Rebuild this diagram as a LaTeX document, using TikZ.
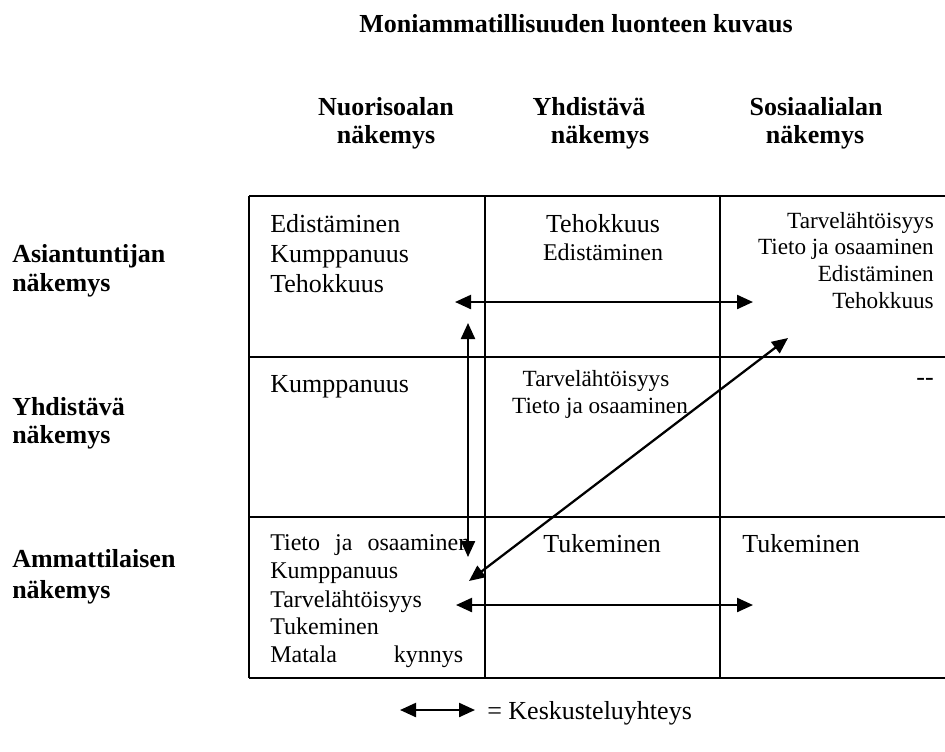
\documentclass[tikz,border=0pt]{standalone}
\usepackage{fontspec}
\setmainfont{Liberation Serif}
\usetikzlibrary{arrows.meta}
\tikzset{
  px/.style={x=0.75pt,y=-0.75pt},
  gridline/.style={line width=1.6pt},
  conn/.style={line width=1.7pt,{Triangle[length=12pt,width=10.5pt]}-{Triangle[length=12pt,width=10.5pt]}},
  big/.style={inner sep=0pt,font=\fontsize{19.5pt}{22pt}\selectfont},
  mid/.style={inner sep=0pt,font=\fontsize{18pt}{21pt}\selectfont},
  small/.style={inner sep=0pt,font=\fontsize{17.4pt}{20pt}\selectfont},
  hdr/.style={inner sep=0pt,font=\fontsize{19.5pt}{22pt}\selectfont\bfseries},
}
\begin{document}
\begin{tikzpicture}[px]
\useasboundingbox (0,0) rectangle (945,751);
% grid
\draw[gridline] (249,196) -- (946,196);
\draw[gridline] (249,357) -- (946,357);
\draw[gridline] (249,517) -- (946,517);
\draw[gridline] (249,678) -- (946,678);
\draw[gridline] (249,196) -- (249,678);
\draw[gridline] (485,196) -- (485,678);
\draw[gridline] (720,196) -- (720,678);
% title and headers
\node[hdr,anchor=base] (title) at (576,32) {Moniammatillisuuden luonteen kuvaus};
\node[hdr,anchor=base] (c1a) at (386,115) {Nuorisoalan};
\node[hdr,anchor=base] (c1b) at (386,143) {näkemys};
\node[hdr,anchor=base] (c2a) at (589,115) {Yhdistävä};
\node[hdr,anchor=base] (c2b) at (600,143) {näkemys};
\node[hdr,anchor=base] (c3a) at (816,115) {Sosiaalialan};
\node[hdr,anchor=base] (c3b) at (815,143) {näkemys};
\node[hdr,anchor=base west] (r1a) at (12,262) {Asiantuntijan};
\node[hdr,anchor=base west] (r1b) at (12,291) {näkemys};
\node[hdr,anchor=base west] (r2a) at (12,415) {Yhdistävä};
\node[hdr,anchor=base west] (r2b) at (12,443) {näkemys};
\node[hdr,anchor=base west] (r3a) at (12,567) {Ammattilaisen};
\node[hdr,anchor=base west] (r3b) at (12,598) {näkemys};
% row 1
\node[big,anchor=base west] (a11) at (270,232) {Edistäminen};
\node[big,anchor=base west] (a12) at (270,262) {Kumppanuus};
\node[big,anchor=base west] (a13) at (270,292) {Tehokkuus};
\node[big,anchor=base] (b11) at (603,232) {Tehokkuus};
\node[mid,anchor=base] (b12) at (603,260) {Edistäminen};
\node[small,anchor=base east] (c11) at (934,228) {Tarvelähtöisyys};
\node[small,anchor=base east] (c12) at (934,254) {Tieto ja osaaminen};
\node[small,anchor=base east] (c13) at (934,281) {Edistäminen};
\node[small,anchor=base east] (c14) at (934,308) {Tehokkuus};
% row 2
\node[big,anchor=base west] (a21) at (270,392) {Kumppanuus};
\node[small,anchor=base] (b21) at (596,386) {Tarvelähtöisyys};
\node[small,anchor=base] (b22) at (600,413) {Tieto ja osaaminen};
\node[big,anchor=base east] (c21) at (934,385) {\mbox{-}\mbox{-}};
% row 3
\node[mid,anchor=base west] (a31) at (270,550) {\makebox[150pt][s]{Tieto\hfill ja\hfill osaaminen}};
\node[mid,anchor=base west] (a32) at (270,578) {Kumppanuus};
\node[mid,anchor=base west] (a33) at (270,607) {Tarvelähtöisyys};
\node[mid,anchor=base west] (a34) at (270,634) {Tukeminen};
\node[mid,anchor=base west] (a35) at (270,662) {\makebox[144.75pt][s]{Matala\hfill kynnys}};
\node[big,anchor=base west] (b31) at (543,552) {Tukeminen};
\node[big,anchor=base west] (c31) at (742,552) {Tukeminen};
% connector end points
\coordinate (h1l) at (455,302);
\coordinate (h1r) at (753,302);
\coordinate (vt) at (468,323);
\coordinate (vb) at (468,557);
\coordinate (dt) at (788,338);
\coordinate (db) at (469,581);
\coordinate (h2l) at (456,605);
\coordinate (h2r) at (753,605);
\coordinate (ll) at (400,710);
\coordinate (lr) at (475,710);
\draw[conn] (h1l) -- (h1r);
\draw[conn] (vt) -- (vb);
\draw[conn] (db) -- (dt);
\draw[conn] (h2l) -- (h2r);
\draw[conn] (ll) -- (lr);
\node[big,anchor=base west] (legend) at (487,719) {= Keskusteluyhteys};
\end{tikzpicture}
\end{document}
